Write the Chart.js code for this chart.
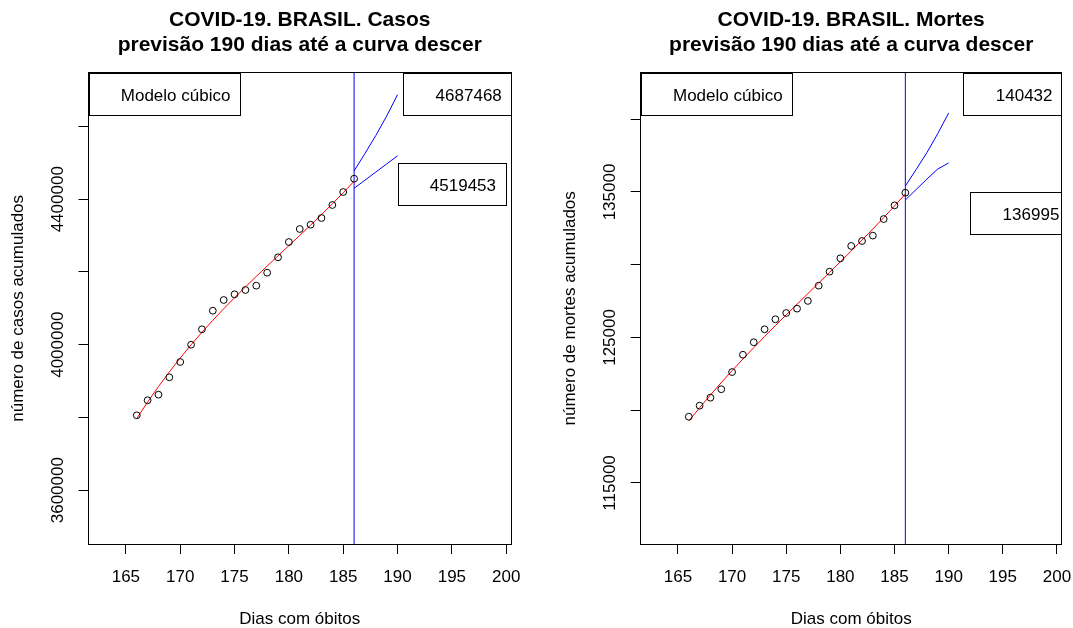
<!DOCTYPE html>
<html>
<head>
<meta charset="utf-8">
<script src="https://cdn.jsdelivr.net/npm/chart.js@4/dist/chart.umd.min.js"></script>
<style>
  html, body { margin: 0; padding: 0; background: #ffffff; }
  #painel { position: relative; width: 1073px; height: 628px; overflow: hidden; }
  canvas { position: absolute; top: 0; }
  #cCasos { left: 0; }
  #cMortes { left: 537px; }
</style>
</head>
<body>
<div id="painel">
  <canvas id="cCasos" width="537" height="628"></canvas>
  <canvas id="cMortes" width="536" height="628"></canvas>
</div>
<script>
// Dias com óbitos (série observada) e dias da previsão
const dias = [166, 167, 168, 169, 170, 171, 172, 173, 174, 175, 176,
              177, 178, 179, 180, 181, 182, 183, 184, 185, 186];
const diasPrevisao = [186, 187, 188, 189, 190];
const diaCorte = 186;

// Casos acumulados
const casosObservados = [3805900, 3847200, 3862600, 3910400, 3952500, 4000000, 4042400,
                         4093500, 4123000, 4138600, 4150500, 4162300, 4198000, 4240400,
                         4282400, 4318200, 4330000, 4348400, 4384200, 4419900, 4456500];
const casosAjuste = [3797100, 3842300, 3884900, 3925200, 3963400, 3999700, 4034200,
                     4067100, 4098800, 4129300, 4158900, 4187900, 4216300, 4244400,
                     4272400, 4300500, 4328900, 4357800, 4387400, 4417900, 4449600];
const casosPrevSup = [4477700, 4525800, 4575300, 4628900, 4687468];
const casosPrevInf = [4430100, 4452400, 4474800, 4497100, 4519453];

// Mortes acumuladas
const mortesObservadas = [119550, 120310, 120860, 121440, 122620, 123810, 124670,
                          125560, 126250, 126680, 126980, 127510, 128560, 129520,
                          130440, 131290, 131630, 132000, 133140, 134080, 134950];
const mortesAjuste = [119256, 120165, 121043, 121892, 122716, 123517, 124298,
                      125062, 125813, 126553, 127286, 128014, 128741, 129469,
                      130202, 130942, 131693, 132457, 133238, 134039, 134863];
const mortesPrevSup = [135411, 136545, 137714, 139020, 140432];
const mortesPrevInf = [134449, 135171, 135893, 136580, 136995];

// Marcas dos eixos
const diasTicks = [165, 170, 175, 180, 185, 190, 195, 200];
const casosYTicks = [3600000, 3800000, 4000000, 4200000, 4400000, 4600000];
const casosYRotulos = [3600000, 4000000, 4400000];
const mortesYTicks = [115000, 120000, 125000, 130000, 135000, 140000];
const mortesYRotulos = [115000, 125000, 135000];

const FONTE = "'Liberation Sans', Arial, Helvetica, sans-serif";
Chart.defaults.font.family = FONTE;
Chart.defaults.font.size = 17;
Chart.defaults.color = '#000000';

function pontos(xs, ys) {
  return xs.map((x, i) => ({ x: x, y: ys[i] }));
}

// Moldura do gráfico, rótulos verticais do eixo y e caixas de legenda
const molduraR = {
  id: 'molduraR',
  afterDraw(chart, args, opts) {
    const ctx = chart.ctx;
    const a = chart.chartArea;
    const sx = chart.scales.x;
    const sy = chart.scales.y;
    const L = Math.floor(a.left) + 0.5;
    const T = Math.floor(a.top) + 0.5;
    const R = Math.floor(a.right) + 0.5;
    const B = Math.floor(a.bottom) + 0.5;

    ctx.save();
    ctx.strokeStyle = '#000000';
    ctx.lineWidth = 1;
    ctx.strokeRect(L, T, R - L, B - T);

    // rótulos do eixo y, paralelos ao eixo
    ctx.fillStyle = '#000000';
    ctx.font = '17px ' + FONTE;
    ctx.textAlign = 'center';
    ctx.textBaseline = 'middle';
    opts.rotulosY.forEach(v => {
      const py = sy.getPixelForValue(v);
      ctx.save();
      ctx.translate(a.left - opts.afastRotulosY, py);
      ctx.rotate(-Math.PI / 2);
      ctx.fillText(String(v), 0, 0);
      ctx.restore();
    });

    // caixas de legenda, recortadas na região do gráfico
    ctx.beginPath();
    ctx.rect(L - 0.5, T - 0.5, R - L + 1, B - T + 1);
    ctx.clip();
    ctx.textAlign = 'left';
    opts.caixas.forEach(c => {
      const w = ctx.measureText(c.texto).width + 41.5;
      const h = 41.6;
      let bx, by;
      if (c.canto === 'topleft') {
        bx = a.left; by = a.top;
      } else if (c.canto === 'topright') {
        bx = a.right - w; by = a.top;
      } else {
        bx = sx.getPixelForValue(c.x); by = sy.getPixelForValue(c.y);
      }
      ctx.strokeRect(Math.round(bx) + 0.5, Math.round(by) + 0.5, Math.round(w), Math.round(h));
      ctx.fillText(c.texto, bx + 32.3, by + 23.3);
    });
    ctx.restore();
  }
};

function linha(dados, cor) {
  return {
    type: 'line', data: dados, borderColor: cor, borderWidth: 1,
    pointRadius: 0, tension: 0, fill: false
  };
}

function grafico(id, cfg) {
  const eixoTicks = (lista) => (s) => { s.ticks = lista.map(v => ({ value: v })); };
  const grade = { display: true, drawOnChartArea: false, drawTicks: true, tickLength: 10, color: '#000000', lineWidth: 1 };
  return new Chart(document.getElementById(id), {
    type: 'scatter',
    data: {
      datasets: [
        {
          type: 'scatter', data: pontos(dias, cfg.obs), pointStyle: 'circle',
          pointRadius: 3.4, borderWidth: 1, borderColor: '#000000',
          backgroundColor: 'rgba(0,0,0,0)'
        },
        linha(pontos(dias, cfg.ajuste), '#ff0000'),
        linha(pontos(diasPrevisao, cfg.sup), '#0000ff'),
        linha(pontos(diasPrevisao, cfg.inf), '#0000ff'),
        linha([{ x: diaCorte, y: cfg.yMin }, { x: diaCorte, y: cfg.yMax }], '#0000ff')
      ]
    },
    options: {
      responsive: false,
      animation: false,
      events: [],
      layout: { padding: { left: 0, right: cfg.margemDir, top: 0, bottom: 0 } },
      plugins: {
        legend: { display: false },
        tooltip: { enabled: false },
        title: {
          display: true, fullSize: false, text: cfg.titulo, color: '#000000',
          font: { size: 21, weight: 'bold', lineHeight: '25px' },
          padding: { top: 7.7, bottom: 15 }
        },
        molduraR: {
          rotulosY: cfg.rotulosY,
          afastRotulosY: 30,
          caixas: [
            { texto: 'Modelo cúbico', canto: 'topleft' },
            { texto: String(cfg.sup[cfg.sup.length - 1]), canto: 'topright' },
            { texto: String(cfg.inf[cfg.inf.length - 1]), x: cfg.caixaX, y: cfg.caixaY }
          ]
        }
      },
      scales: {
        x: {
          type: 'linear', min: 161.56, max: 200.44,
          afterBuildTicks: eixoTicks(diasTicks),
          afterFit: (s) => { s.height = 84; s.paddingLeft = 0; s.paddingRight = 0; },
          ticks: { autoSkip: false, minRotation: 0, maxRotation: 0, padding: 12.8, color: '#000000', callback: (v) => String(v) },
          grid: grade,
          border: { display: false },
          title: { display: true, text: 'Dias com óbitos', color: '#000000', font: { size: 17, lineHeight: 1 }, padding: { top: 0, bottom: 0.5 } }
        },
        y: {
          type: 'linear', min: cfg.yMin, max: cfg.yMax,
          afterBuildTicks: eixoTicks(cfg.yTicks),
          afterFit: (s) => { s.width = cfg.larguraY; s.paddingTop = 0; s.paddingBottom = 0; },
          ticks: { display: false, autoSkip: false },
          grid: grade,
          border: { display: false },
          title: { display: true, text: cfg.tituloY, color: '#000000', font: { size: 17, lineHeight: 1 }, padding: { top: cfg.recuoTituloY, bottom: 0 } }
        }
      }
    },
    plugins: [molduraR]
  });
}

grafico('cCasos', {
  titulo: ['COVID-19. BRASIL. Casos', 'previsão 190 dias até a curva descer'],
  tituloY: 'número de casos acumulados',
  obs: casosObservados, ajuste: casosAjuste, sup: casosPrevSup, inf: casosPrevInf,
  yMin: 3452000, yMax: 4748000, yTicks: casosYTicks, rotulosY: casosYRotulos,
  caixaX: 190, caixaY: 4500000,
  larguraY: 88.5, margemDir: 26, recuoTituloY: 9.5
});

grafico('cMortes', {
  titulo: ['COVID-19. BRASIL. Mortes', 'previsão 190 dias até a curva descer'],
  tituloY: 'número de mortes acumulados',
  obs: mortesObservadas, ajuste: mortesAjuste, sup: mortesPrevSup, inf: mortesPrevInf,
  yMin: 110800, yMax: 143200, yTicks: mortesYTicks, rotulosY: mortesYRotulos,
  caixaX: 192, caixaY: 135000,
  larguraY: 103.7, margemDir: 11.3, recuoTituloY: 24.5
});
</script>
</body>
</html>
